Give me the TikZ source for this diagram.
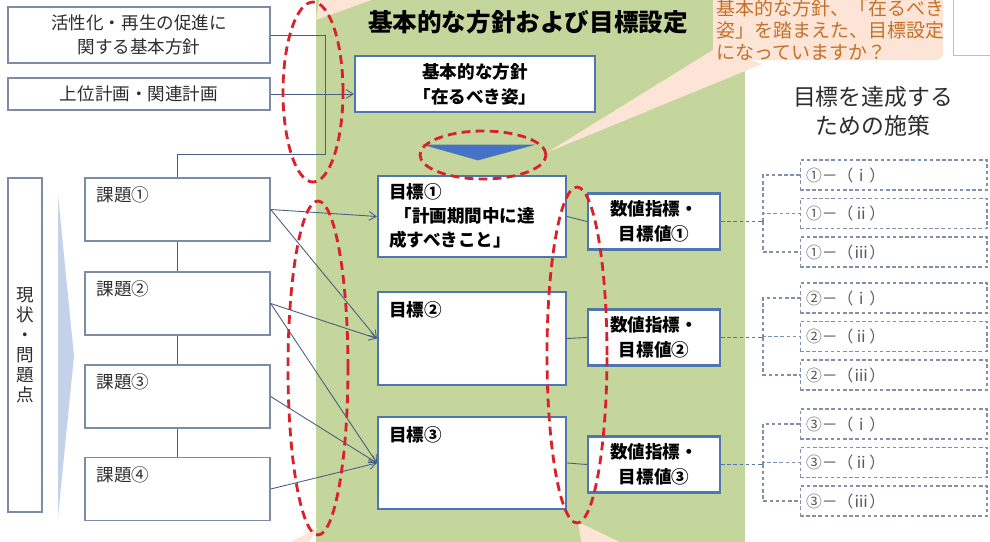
\documentclass[tikz,border=0pt]{standalone}
\usepackage{fontspec}
\setmainfont{Noto Sans CJK JP}
\usetikzlibrary{positioning,calc,arrows.meta}

\definecolor{bggreen}{RGB}{196,214,155}
\definecolor{ringred}{RGB}{218,32,42}
\definecolor{boxgray}{RGB}{125,140,165}
\definecolor{goalblue}{RGB}{80,118,175}
\definecolor{triblue}{RGB}{70,115,200}
\definecolor{peach}{RGB}{252,229,214}
\definecolor{peachtext}{RGB}{196,112,40}
\definecolor{subgray}{RGB}{130,145,170}
\definecolor{linkblue}{RGB}{70,95,130}
\definecolor{paleblue}{RGB}{195,210,234}
\definecolor{inkgray}{RGB}{45,45,45}

\begin{document}
\begin{tikzpicture}[x=0.02cm,y=-0.02cm,
	every node/.style={font=\fontsize{10}{14}\selectfont,text=inkgray},
	plainbox/.style={draw=boxgray,line width=0.8pt,fill=white,inner sep=0pt},
	goalbox/.style={draw=goalblue,line width=1.3pt,fill=white,inner sep=0pt},
	boldtext/.style={font=\bfseries\fontsize{10}{14}\selectfont,text=black},
	subbox/.style={draw=subgray,line width=0.6pt,dash pattern=on 2pt off 1.5pt,fill=white,inner sep=0pt,
		minimum width=3.74cm,minimum height=0.6cm,text width=3.5cm,align=left,
		font=\fontsize{9}{11}\selectfont,text=black!65},
	redring/.style={draw=ringred,line width=1.6pt,dash pattern=on 5pt off 3pt},
	linkline/.style={draw=linkblue,line width=0.5pt},
	arr/.style={linkline,-{Straight Barb[length=4pt,width=5pt]}},
	dline/.style={draw=subgray,line width=0.6pt,dash pattern=on 2pt off 1.5pt}]
	\useasboundingbox (0,0) rectangle (990,541);
	\clip (0,0) rectangle (990,541);
	\fill[white] (0,0) rectangle (990,541);
	\fill[bggreen] (316,-5) rectangle (745,546);

	% callout pointers
	\fill[peach] (316,20) -- (320,-5) -- (385,-5) -- cycle;
	\fill[peach] (318,528) -- (282,546) -- (306,546) -- cycle;
	\fill[peach] (578,522) -- (582,546) -- (628,546) -- cycle;
	\fill[peach] (548,152) -- (716,48) -- (762,64) -- cycle;
	\fill[peach,rounded corners=4pt] (713,-10) rectangle (943,60);
	\node[anchor=west,inner sep=0pt,align=left,text=peachtext,font=\fontsize{10.8}{12.6}\selectfont] (asktext) at (716,30)
		{基本的な方針、「在るべき\\姿」を踏まえた、目標設定\\になっていますか？};
	\draw[draw=black!25,fill=white] (953,-5) rectangle (996,55);

	\node[font=\bfseries\fontsize{14}{16}\selectfont,text=black] (title) at (528,22) {基本的な方針および目標設定};
	\node[align=center,font=\fontsize{13}{16.4}\selectfont] (measures) at (873,111) {目標を達成する\\ための施策};

	\node[plainbox,minimum width=5.24cm,minimum height=1.12cm,align=center] (policy) at (139,35) {活性化・再生の促進に\\関する基本方針};
	\node[plainbox,minimum width=5.24cm,minimum height=0.64cm] (plans) at (139,94) {上位計画・関連計画};
	\node[goalbox,minimum width=4.8cm,minimum height=1.12cm,align=center,boldtext] (vision) at (475,84) {基本的な方針\\「在るべき姿」};
	\fill[triblue,draw=goalblue] (425,145) -- (533,145) -- (478,160) -- cycle;

	\node[plainbox,minimum width=0.68cm,minimum height=6.68cm,align=center,font=\fontsize{10}{11.4}\selectfont] (status) at (25,345) {現\\状\\・\\問\\題\\点};
	\fill[paleblue] (58,195) -- (74,356) -- (58,517) -- cycle;

	\foreach \i/\y/\c in {1/209.5/①,2/303.5/②,3/396.5/③,4/489/④} {
		\node[plainbox,minimum width=3.7cm,minimum height=1.26cm] (issue\i) at (177.5,\y) {};
		\node[anchor=north west,inner sep=0pt] (issuetext\i) at ([shift={(12,9)}]issue\i.north west) {課題\c};
	}
	\draw[linkline] (policy.east) -| (325,154) -| (issue1.north);
	\draw[linkline,-{Straight Barb[length=4pt,width=5pt]}] (plans.east) -- (plans.east -| vision.west);
	\draw[linkline] (issue1) -- (issue2);
	\draw[linkline] (issue2) -- (issue3);
	\draw[linkline] (issue3) -- (issue4);

	\node[goalbox,minimum width=3.76cm,minimum height=1.62cm] (goal1) at (472,216.5) {};
	\node[goalbox,minimum width=3.76cm,minimum height=1.86cm] (goal2) at (472,338.5) {};
	\node[goalbox,minimum width=3.76cm,minimum height=1.84cm] (goal3) at (472,463) {};
	\node[anchor=north west,inner sep=0pt,align=left,boldtext,font=\bfseries\fontsize{10}{13.6}\selectfont] (goaltext1)
		at ([shift={(12,8)}]goal1.north west) {目標①\\\hspace{0.3em}「計画期間中に達\\成すべきこと」};
	\node[anchor=north west,inner sep=0pt,boldtext] (goaltext2) at ([shift={(12,10)}]goal2.north west) {目標②};
	\node[anchor=north west,inner sep=0pt,boldtext] (goaltext3) at ([shift={(12,10)}]goal3.north west) {目標③};

	\draw[arr] (issue1.east) -- (goal1.west);
	\draw[arr] (issue1.east) -- (goal2.west);
	\draw[arr] (issue2.east) -- (goal2.west);
	\draw[arr] (issue2.east) -- (goal3.west);
	\draw[arr] (issue3.east) -- (goal3.west);
	\draw[arr] (issue4.east) -- (goal3.west);

	\foreach \i/\y/\s/\c in {1/221.5/175/①,2/337.5/298/②,3/464.5/424/③} {
		\node[goalbox,minimum width=2.64cm,minimum height=1.12cm,align=center,boldtext] (value\i) at (654,\y) {数値指標・\\目標値\c};
		\draw[linkline] (goal\i.east) -- (value\i.west);
		\coordinate (bracket\i) at (763,\y);
		\draw[dline,draw=goalblue] (value\i.east) -- (bracket\i);
		\foreach \j/\r in {1/ⅰ,2/ⅱ,3/ⅲ} {
			\node[subbox] (sub\i\j) at (893.5,\s+38.5*\j-38.5) {\c－（\r）};
			\draw[dline] (bracket\i) |- (sub\i\j.west);
		}
	}

	% red marks
	\draw[redring] (313,92) ellipse [x radius=0.6cm,y radius=1.8cm];
	\draw[redring] (483,155) ellipse [x radius=1.26cm,y radius=0.48cm];
	\draw[redring] (318,368) ellipse [x radius=0.6cm,y radius=3.34cm];
	\draw[redring] (577,355) ellipse [x radius=0.6cm,y radius=3.36cm];
\end{tikzpicture}
\end{document}
